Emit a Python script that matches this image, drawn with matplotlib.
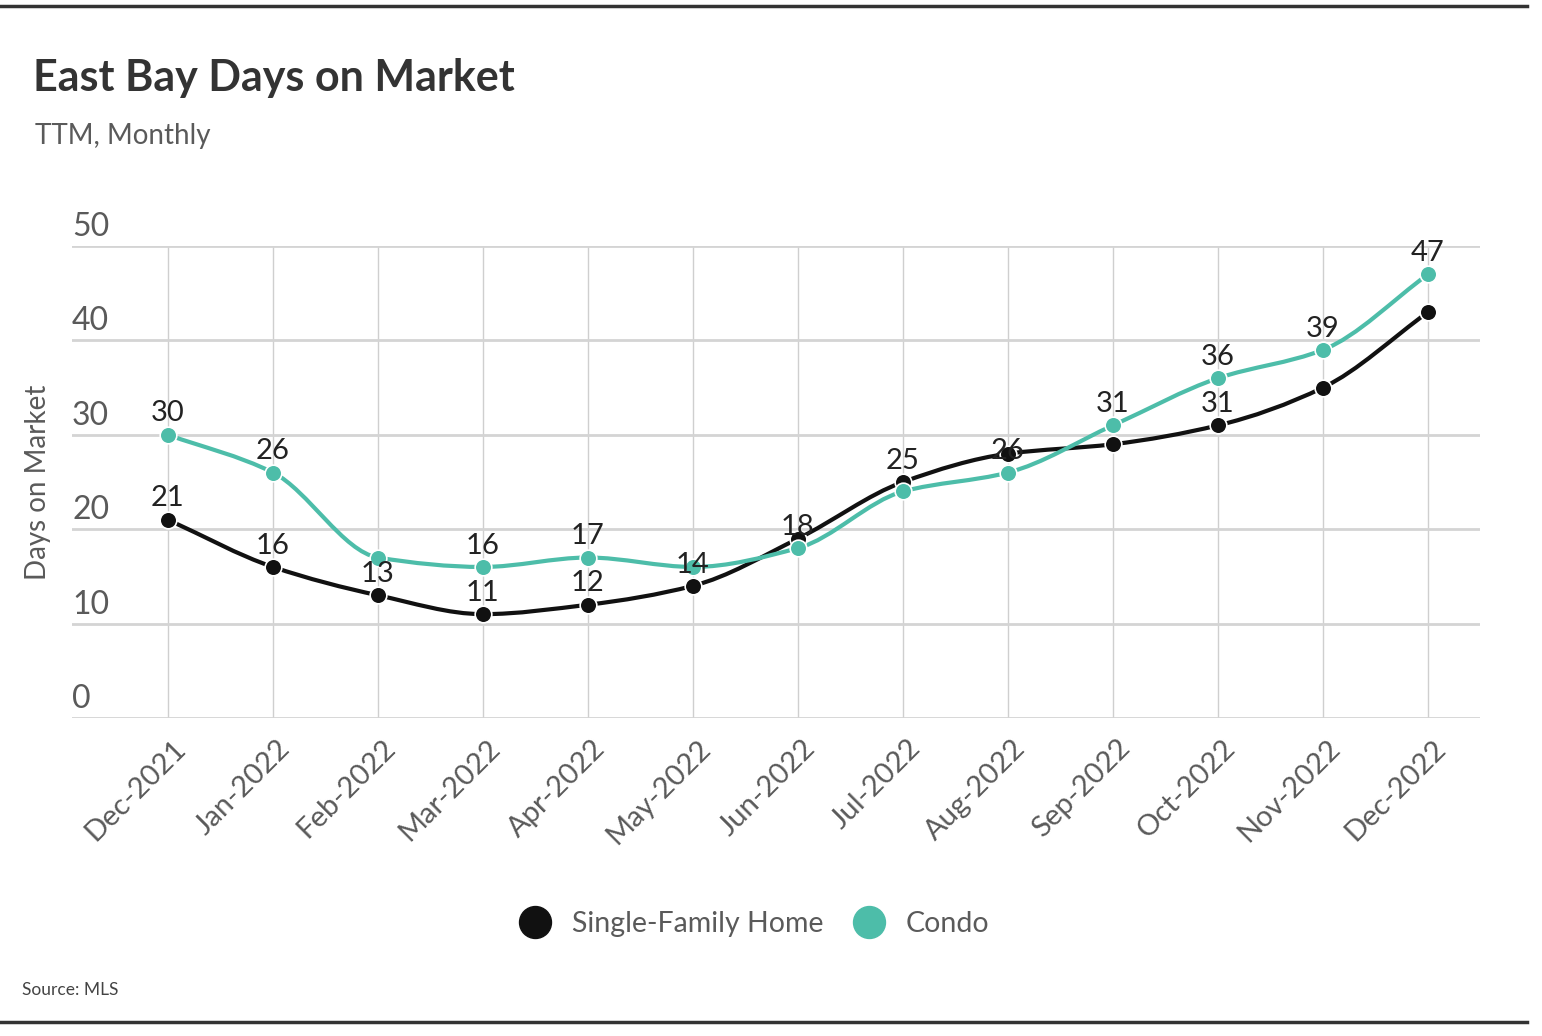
import matplotlib
matplotlib.use('Agg')
import matplotlib.pyplot as plt
import numpy as np
from matplotlib.path import Path
from matplotlib.patches import PathPatch
from matplotlib.lines import Line2D
from matplotlib.transforms import ScaledTranslation

plt.rcParams['font.family'] = ['Lato', 'DejaVu Sans']

months = ['Dec-2021', 'Jan-2022', 'Feb-2022', 'Mar-2022', 'Apr-2022', 'May-2022',
          'Jun-2022', 'Jul-2022', 'Aug-2022', 'Sep-2022', 'Oct-2022', 'Nov-2022', 'Dec-2022']
single_family = [21, 16, 13, 11, 12, 14, 19, 25, 28, 29, 31, 35, 43]
condo = [30, 26, 17, 16, 17, 16, 18, 24, 26, 31, 36, 39, 47]
# which points carry a value label in the original
sf_labeled = [0, 1, 2, 3, 4, 5, 7, 10]
condo_labeled = [0, 1, 3, 4, 6, 8, 9, 10, 11, 12]
y_ticks = [0, 10, 20, 30, 40, 50]

BLACK = '#111111'
TEAL = '#4dbda9'
GRAY = '#5a5a5a'


def smooth_path(xs, ys):
    # cubic bezier through the points, monotone-style tangents
    xs = np.asarray(xs, float)
    ys = np.asarray(ys, float)
    n = len(xs)
    d = np.diff(ys) / np.diff(xs)
    m = np.zeros(n)
    m[0], m[-1] = d[0], d[-1]
    for i in range(1, n - 1):
        if d[i - 1] * d[i] <= 0:
            m[i] = 0
        else:
            m[i] = 2 / (1 / d[i - 1] + 1 / d[i])
    verts = [(xs[0], ys[0])]
    codes = [Path.MOVETO]
    for i in range(n - 1):
        h = xs[i + 1] - xs[i]
        verts += [(xs[i] + h / 3, ys[i] + m[i] * h / 3),
                  (xs[i + 1] - h / 3, ys[i + 1] - m[i + 1] * h / 3),
                  (xs[i + 1], ys[i + 1])]
        codes += [Path.CURVE4] * 3
    return Path(verts, codes)


fig = plt.figure(figsize=(15.42, 10.36), dpi=100)
ax = fig.add_axes([72 / 1542, 1 - 718 / 1036, (1480 - 72) / 1542, (718 - 246) / 1036])

x = np.arange(len(months))
ax.set_xlim(-0.914, 12.495)
ax.set_ylim(0, 50)

for series, color in [(single_family, BLACK), (condo, TEAL)]:
    ax.add_patch(PathPatch(smooth_path(x, series), facecolor='none', edgecolor=color,
                           lw=3, zorder=3, capstyle='round'))
    ax.plot(x, series, 'o', color=color, ms=12, mec='white', mew=1.2, zorder=4)

for i in sf_labeled:
    ax.annotate(str(single_family[i]), (x[i], single_family[i]), xytext=(0, 6),
                textcoords='offset points', ha='center', va='bottom', fontsize=21,
                color='#222222', zorder=5)
for i in condo_labeled:
    ax.annotate(str(condo[i]), (x[i], condo[i]), xytext=(0, 6),
                textcoords='offset points', ha='center', va='bottom', fontsize=21,
                color='#222222', zorder=5)

# grid
ax.set_yticks(y_ticks)
ax.set_yticklabels([])
ax.set_xticks(x)
ax.grid(axis='y', color='#d4d4d4', lw=2)
ax.grid(axis='x', color='#cfcfcf', lw=1)
ax.set_axisbelow(True)
for s in ax.spines.values():
    s.set_visible(False)
ax.tick_params(length=0)

ylab_offset = ScaledTranslation(0, 4 / 100, fig.dpi_scale_trans)
for v in y_ticks:
    ax.text(0.0, v, str(v), transform=ax.get_yaxis_transform() + ylab_offset,
            ha='left', va='bottom', fontsize=23, color=GRAY)

ax.set_xticklabels(months, rotation=45, ha='right', va='top', rotation_mode='anchor',
                   fontsize=21, color=GRAY)
offset = ScaledTranslation(4 / 100, -12 / 100, fig.dpi_scale_trans)
for lab in ax.get_xticklabels():
    lab.set_transform(lab.get_transform() + offset)

fig.text(38 / 1542, 1 - 482 / 1036, 'Days on Market', rotation=90, ha='center', va='center',
         fontsize=20, color=GRAY)

fig.text(33 / 1542, 1 - 78 / 1036, 'East Bay Days on Market', ha='left', va='center',
         fontsize=31, fontweight='bold', color='#333333')
fig.text(35 / 1542, 1 - 136 / 1036, 'TTM, Monthly', ha='left', va='center',
         fontsize=20, color=GRAY)
fig.text(22 / 1542, 1 - 990 / 1036, 'Source: MLS', ha='left', va='center',
         fontsize=12.5, color='#444444')

handles = [Line2D([], [], ls='', marker='o', ms=23, color=BLACK),
           Line2D([], [], ls='', marker='o', ms=23, color=TEAL)]
fig.legend(handles, ['Single-Family Home', 'Condo'], loc='center',
           bbox_to_anchor=(748 / 1542, 1 - 924 / 1036), ncol=2, frameon=False,
           fontsize=20.5, labelcolor=GRAY, handletextpad=0.3, columnspacing=0.6)

fig.add_artist(Line2D([0, 1527 / 1542], [1 - 6 / 1036] * 2, color='#333333', lw=2.5))
fig.add_artist(Line2D([0, 1527 / 1542], [1 - 1022 / 1036] * 2, color='#333333', lw=2.5))

fig.savefig('out.png', dpi=100, facecolor='white')
